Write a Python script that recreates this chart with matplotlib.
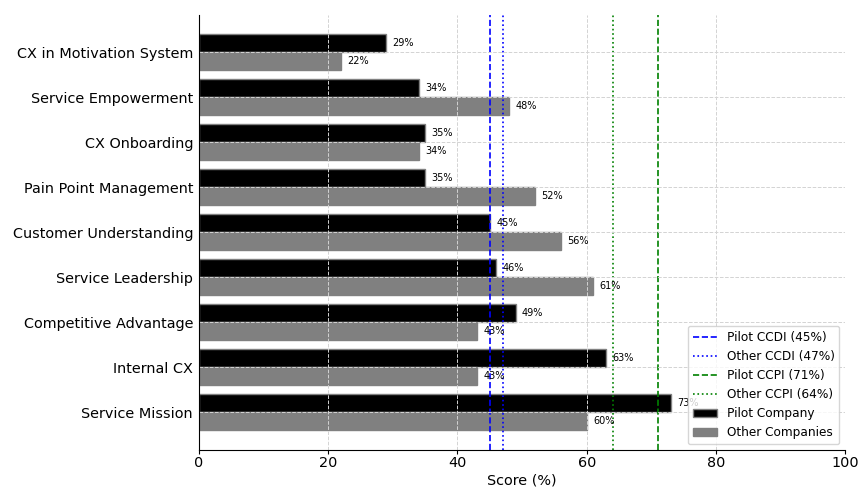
import matplotlib
matplotlib.use("Agg")
import matplotlib.pyplot as plt
import numpy as np

categories = ["CX in Motivation System", "Service Empowerment", "CX Onboarding",
              "Pain Point Management", "Customer Understanding", "Service Leadership",
              "Competitive Advantage", "Internal CX", "Service Mission"]
pilot = [29, 34, 35, 35, 45, 46, 49, 63, 73]
other = [22, 48, 34, 52, 56, 61, 43, 43, 60]
pilot_ccdi, other_ccdi = 45, 47
pilot_ccpi, other_ccpi = 71, 64

# bottom-to-top order for barh
categories = categories[::-1]
pilot = pilot[::-1]
other = other[::-1]

fig, ax = plt.subplots(figsize=(8.6, 4.87), dpi=100)
y = np.arange(len(categories))
h = 0.4

ax.axvline(pilot_ccdi, color="blue", linestyle="--", linewidth=1.2, label=f"Pilot CCDI ({pilot_ccdi}%)")
ax.axvline(other_ccdi, color="blue", linestyle=":", linewidth=1.2, label=f"Other CCDI ({other_ccdi}%)")
ax.axvline(pilot_ccpi, color="green", linestyle="--", linewidth=1.2, label=f"Pilot CCPI ({pilot_ccpi}%)")
ax.axvline(other_ccpi, color="green", linestyle=":", linewidth=1.2, label=f"Other CCPI ({other_ccpi}%)")

ax.barh(y + h / 2, pilot, height=h, color="black", edgecolor="gray", label="Pilot Company")
ax.barh(y - h / 2, other, height=h, color="gray", edgecolor="gray", label="Other Companies")

for yi, v in zip(y, pilot):
    ax.text(v + 1, yi + h / 2, f"{v}%", va="center", fontsize=7)
for yi, v in zip(y, other):
    ax.text(v + 1, yi - h / 2, f"{v}%", va="center", fontsize=7)

ax.set_yticks(y)
ax.set_yticklabels(categories, fontsize=10.4)
ax.set_xlim(0, 100)
ax.set_xlabel("Score (%)", fontsize=10.4, labelpad=2)
ax.tick_params(axis="x", labelsize=10.4, length=3, pad=1.5)
ax.tick_params(axis="y", length=0, pad=4)
ax.grid(True, linestyle="--", color="lightgray", linewidth=0.7)
ax.set_axisbelow(False)
ax.spines["top"].set_visible(False)
ax.spines["right"].set_visible(False)
ax.spines["left"].set_zorder(4)
ax.spines["bottom"].set_zorder(4)

ax.legend(loc="lower right", fontsize=8.7)

plt.subplots_adjust(left=0.231, right=0.983, top=0.97, bottom=0.076)
plt.savefig("out.png")
